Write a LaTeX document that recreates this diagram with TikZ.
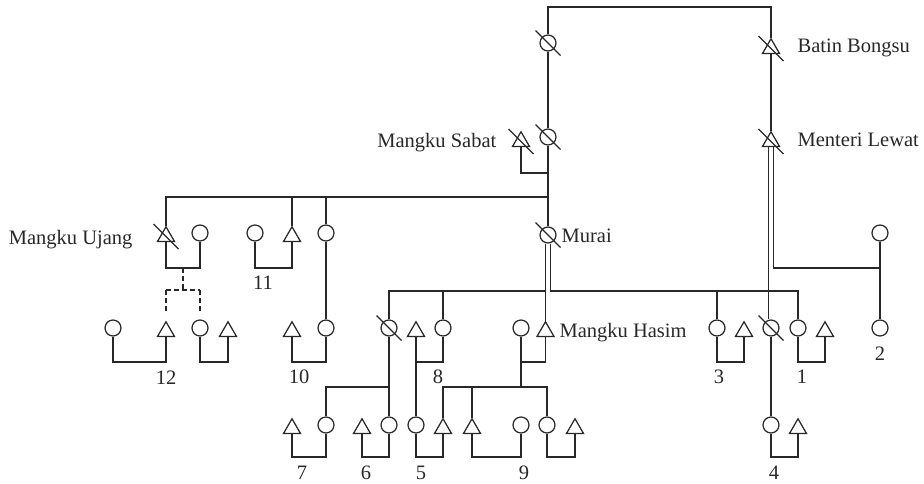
\documentclass[tikz,border=0pt]{standalone}
\usepackage{fontspec}
\setmainfont{Liberation Serif}
\usetikzlibrary{shapes.geometric}
\definecolor{ink}{RGB}{40,40,40}
\begin{document}
\begin{tikzpicture}[x=1pt,y=-1pt,line width=1.25pt,color=ink,
  fem/.style={circle,draw,minimum size=16pt,inner sep=0pt},
  mal/.style={regular polygon,regular polygon sides=3,draw,minimum size=19.5pt,inner sep=0pt,yshift=-3.5pt},
  lab/.style={font=\fontsize{20.5}{24}\selectfont,anchor=base,inner sep=0pt,text=ink},
  nmw/.style={lab,anchor=base west},
  nme/.style={lab,anchor=base east},
  dsh/.style={dash pattern=on 4.5pt off 3.5pt}]
\useasboundingbox (0,0) rectangle (924,483);
% levels
\coordinate (L7) at (0,7);
\coordinate (L173) at (0,173);
\coordinate (L197) at (0,197);
\coordinate (L268) at (0,268);
\coordinate (L290) at (0,290);
\coordinate (L291) at (0,291);
\coordinate (L362) at (0,362);
\coordinate (L387) at (0,387);
\coordinate (L457) at (0,457);
% generation 1
\node[fem] (TopW) at (548,43) {};
\node[mal] (BB) at (771,45) {};
% generation 2
\node[mal] (MS) at (521,138) {};
\node[fem] (SW) at (548,137) {};
\node[mal] (ML) at (771,138) {};
% generation 3
\node[mal] (MU) at (166,233) {};
\node[fem] (MUw) at (200,233) {};
\node[fem] (C11) at (255,233) {};
\node[mal] (T11) at (292,233) {};
\node[fem] (C10a) at (326,233) {};
\node[fem] (Murai) at (548,235) {};
\node[fem] (C2t) at (880,233) {};
% generation 4
\node[fem] (C12a) at (113,328) {};
\node[mal] (T12) at (166,328) {};
\node[fem] (C12b) at (200,328) {};
\node[mal] (T12b) at (228,328) {};
\node[mal] (T10) at (292,328) {};
\node[fem] (C10) at (326,328) {};
\node[fem] (D1) at (389,328) {};
\node[mal] (T8) at (416,328) {};
\node[fem] (C8) at (443,328) {};
\node[fem] (C9) at (521,328) {};
\node[mal] (MH) at (545.5,328) {};
\node[fem] (C3) at (717,328) {};
\node[mal] (T3) at (744,328) {};
\node[fem] (D2) at (771,328) {};
\node[fem] (C1) at (798,328) {};
\node[mal] (T1) at (825,328) {};
\node[fem] (C2) at (880,328) {};
% generation 5
\node[mal] (T7) at (292,425) {};
\node[fem] (C7) at (326,425) {};
\node[mal] (T6) at (362,425) {};
\node[fem] (C6) at (389,425) {};
\node[fem] (C5) at (416,425) {};
\node[mal] (T5) at (443,425) {};
\node[mal] (T9) at (472,425) {};
\node[fem] (C9b) at (521,425) {};
\node[fem] (C9c) at (547,425) {};
\node[mal] (T9b) at (575,425) {};
\node[fem] (C4) at (771,425) {};
\node[mal] (T4) at (798,425) {};
% deceased marks
\foreach \n in {TopW,BB,MS,SW,ML,MU,Murai,D1,D2}
  \draw ([shift={(-12.5,-12.5)}]\n.center) -- ([shift={(12.5,12.5)}]\n.center);
% names
\node[nmw] (tBB) at (797,52) {Batin Bongsu};
\node[nmw] (tML) at (797,146) {Menteri Lewat};
\node[nme] (tMS) at (497,147) {Mangku Sabat};
\node[nme] (tMU) at (133,244) {Mangku Ujang};
\node[nmw] (tMurai) at (561,242) {Murai};
\node[nmw] (tMH) at (559,337) {Mangku Hasim};
% numbers
\node[lab] (n11) at (263,289) {11};
\node[lab] (n12) at (166,384) {12};
\node[lab] (n10) at (299,383) {10};
\node[lab] (n8) at (438,383) {8};
\node[lab] (n3) at (719,383) {3};
\node[lab] (n1) at (802,383) {1};
\node[lab] (n2) at (880,360) {2};
\node[lab] (n7) at (302,479) {7};
\node[lab] (n6) at (366,479) {6};
\node[lab] (n5) at (421,479) {5};
\node[lab] (n9) at (524,479) {9};
\node[lab] (n4) at (774,479) {4};
% top
\draw (TopW.north) |- (BB.north |- L7) -- (BB.north);
\draw (TopW.south) -- (SW.north);
\draw (BB.south) -- (ML.north);
\draw (MS.south) |- (SW.south |- L173);
\draw (SW.south) -- (Murai.north);
% sibling bar of generation 3
\draw (MU.north) |- (SW.south |- L197);
\draw (T11.north) -- (T11.north |- L197);
\draw (C10a.north) -- (C10a.north |- L197);
\draw (C10a.south) -- (C10.north);
% Mangku Ujang
\draw (MU.south) |- (MUw.south |- L268) -- (MUw.south);
\coordinate (dm) at (183,268);
\draw[dsh] (dm) -- (dm |- L290);
\draw[dsh] (T12.north |- L290) -- (C12b.north |- L290);
\draw[dsh,shorten >=7pt] (T12.north |- L290) -- (T12.north);
\draw[dsh,shorten >=7pt] (C12b.north |- L290) -- (C12b.north);
% 11
\draw (C11.south) |- (T11.south |- L268) -- (T11.south);
% Murai
\draw ([xshift=-2.5pt]Murai.south) -- (MH.north);
\draw (D1.north) |- (MH.north |- L291);
\draw (C8.north) -- (C8.north |- L291);
\draw ([xshift=2.5pt]Murai.south) |- (C1.north |- L291) -- (C1.north);
\draw (C3.north) -- (C3.north |- L291);
% Menteri Lewat
\draw ([xshift=-2.5pt]ML.south) -- ([xshift=-2.5pt]D2.north);
\draw ([xshift=2.5pt]ML.south) |- (C2t.south |- L268);
\draw (C2t.south) -- (C2.north);
% generation 4 couples
\draw (C12a.south) |- (T12.south |- L362) -- (T12.south);
\draw (C12b.south) |- (T12b.south |- L362) -- (T12b.south);
\draw (T10.south) |- (C10.south |- L362) -- (C10.south);
\draw (T8.south) |- (C8.south |- L362) -- (C8.south);
\draw (C9.south) |- (MH.south |- L362) -- (MH.south);
\draw (C3.south) |- (T3.south |- L362) -- (T3.south);
\draw (C1.south) |- (T1.south |- L362) -- (T1.south);
% descents
\draw (D1.south) -- (C6.north);
\draw (C7.north) |- (D1.south |- L387);
\draw (T8.south) -- (C5.north);
\draw (C9.south) -- (C9.south |- L387);
\draw (T5.north) |- (C9c.north |- L387) -- (C9c.north);
\draw (T9.north) -- (T9.north |- L387);
\draw (D2.south) -- (C4.north);
% generation 5 couples
\draw (T7.south) |- (C7.south |- L457) -- (C7.south);
\draw (T6.south) |- (C6.south |- L457) -- (C6.south);
\draw (C5.south) |- (T5.south |- L457) -- (T5.south);
\draw (T9.south) |- (C9b.south |- L457) -- (C9b.south);
\draw (C9c.south) |- (T9b.south |- L457) -- (T9b.south);
\draw (C4.south) |- (T4.south |- L457) -- (T4.south);
\end{tikzpicture}
\end{document}
